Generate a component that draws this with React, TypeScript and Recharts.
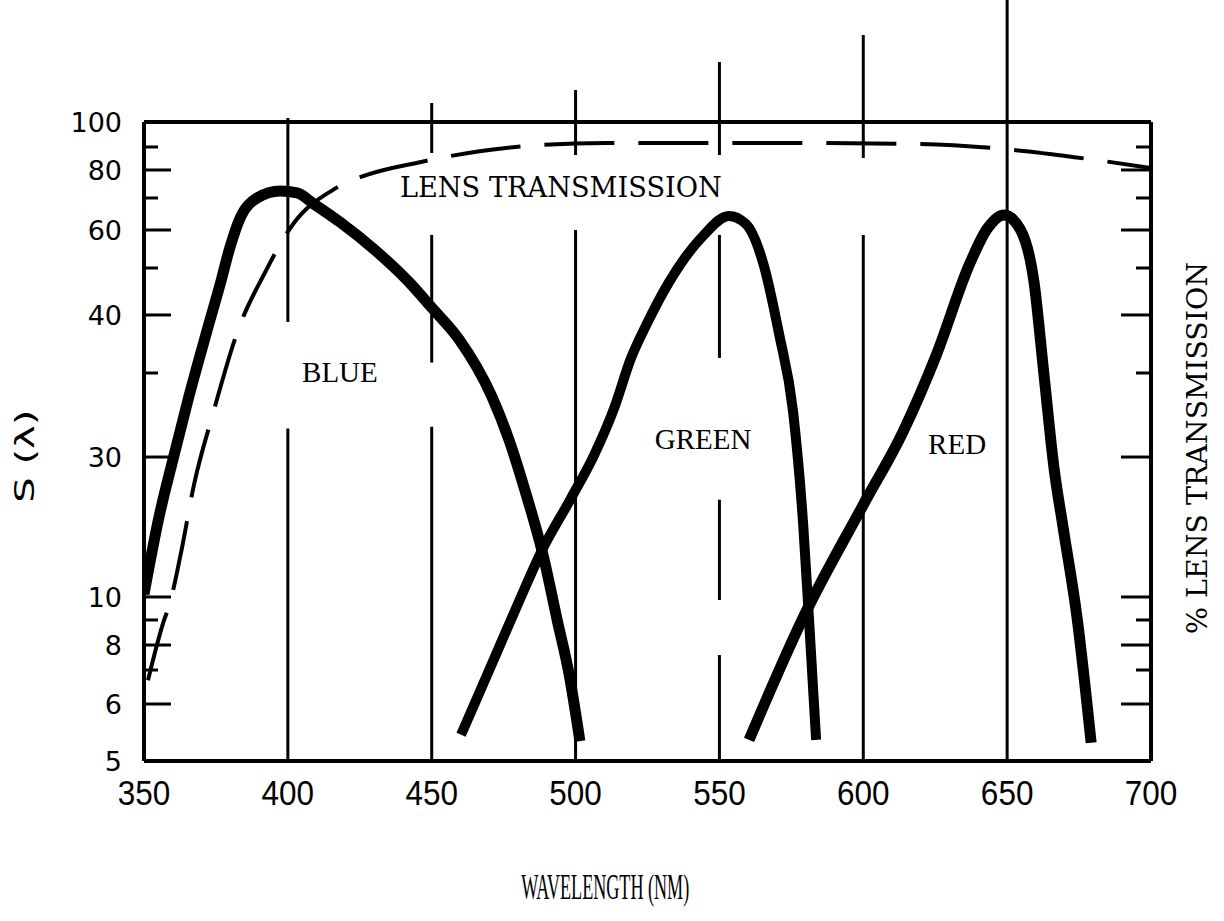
import React from 'react';
import { ComposedChart, Line, XAxis, YAxis, ReferenceLine, ReferenceDot, Label } from 'recharts';

// ---- axis definitions ----
const WAVELENGTH_TICKS = [350, 400, 450, 500, 550, 600, 650, 700];

const S_TICK_VALUES = [5, 6, 7, 8, 9, 10, 30, 35, 40, 50, 60, 70, 80, 90, 100];
const S_TICK_LABELS = ['5', '6', '', '8', '', '10', '30', '', '40', '', '60', '', '80', '', '100'];
// the printed S(λ) scale is hand-ruled (neither linear nor log):
// where each tick value sits along the axis, in ‰ of the axis height
const S_TICK_AXIS_POS = [0, 89.2, 142.4, 181.5, 220.7, 256.7, 475.7, 607.2, 698.0, 771.5, 831.0, 881.1, 924.9, 960.9, 1000];

// ---- series ----
const BLUE_NM = [350, 355.2, 360.1, 365.6, 371.5, 376.4, 379.9, 383.1, 389.3, 397.3, 403.2, 409.1, 418.5, 430.3, 441.8, 450.1, 459.5, 470.9, 476.9, 482.8, 488.7, 493.6, 497.8, 501.5];
const BLUE_S = [10.4, 21.4, 29.7, 33.6, 38.3, 46.4, 55.5, 63.1, 70.0, 72.5, 71.8, 68.1, 62.2, 54.7, 47.2, 41.5, 37.9, 33.6, 31.0, 24.7, 16.0, 9.0, 6.85, 5.35];

const GREEN_NM = [460.2, 470.6, 481.0, 488.0, 498.4, 506.4, 513.4, 519.3, 524.5, 532.5, 544.0, 553.3, 559.2, 565.2, 570.7, 575.6, 579.1, 581.1, 583.6];
const GREEN_S = [5.46, 7.16, 10.0, 16.4, 24.1, 30.1, 32.9, 36.3, 39.1, 47.0, 58.2, 64.4, 61.9, 51.3, 38.4, 32.7, 20.4, 9.1, 5.37];

const RED_NM = [560.3, 579.1, 599.9, 613.8, 625.3, 637.1, 643.0, 648.9, 654.5, 659.3, 662.8, 666.3, 669.5, 674.3, 679.2];
const RED_S = [5.37, 9.1, 23.1, 31.5, 36.5, 51.3, 60.3, 64.7, 60.3, 47.2, 34.9, 28.4, 19.8, 9.1, 5.32];

const LENS_NM = [351.4, 357.0, 358.7, 362.9, 367.4, 374.0, 382.7, 392.1, 402.1, 415.7, 425.4, 446.3, 475.8, 510.6, 543.6, 578.4, 619.0, 655.5, 683.3, 700];
const LENS_LEVEL = [6.7, 9.0, 9.6, 16.4, 26.1, 32.6, 38.7, 49.1, 62.2, 72.9, 77.5, 83.5, 89.6, 91.6, 91.6, 91.6, 91.2, 88.3, 83.9, 80.9];

// hand-drawn vertical rules at the wavelength ticks, with their gaps (S(λ) extents; >100 = above the frame)
const RULE_NM = [400, 450, 500, 550, 600, 650];
const RULE_SEGMENTS: number[][][] = [
  [[101.6, 39.4], [31.7, 5]],
  [[107.6, 87.4], [58.7, 35.9], [31.8, 5]],
  [[112.8, 86.5], [60, 5]],
  [[124.0, 86.5], [58.7, 36.3], [23.9, 9.87], [7.6, 5]],
  [[134.8, 85.2], [58.7, 5]],
  [[148.8, 5]],
];

// curve annotations: [text, wavelength, S]
const CURVE_LABELS: [string, number, number][] = [
  ['BLUE', 418.1, 35.1],
  ['GREEN', 544.3, 31.1],
  ['RED', 632.6, 30.8],
];
const LENS_LABEL: [string, number, number] = ['LENS TRANSMISSION', 494.9, 73.6];

// piecewise scale of the printed axis
function toAxis(v: number): number {
  const n = S_TICK_VALUES.length;
  let i = 0;
  if (v >= S_TICK_VALUES[n - 1]) i = n - 2;
  else if (v > S_TICK_VALUES[0]) {
    while (v > S_TICK_VALUES[i + 1]) i++;
  }
  const v0 = S_TICK_VALUES[i], v1 = S_TICK_VALUES[i + 1];
  const p0 = S_TICK_AXIS_POS[i], p1 = S_TICK_AXIS_POS[i + 1];
  return p0 + ((v - v0) * (p1 - p0)) / (v1 - v0);
}

const build = (nms: number[], vals: number[]) => nms.map((nm, i) => ({ nm, pos: toAxis(vals[i]) }));
const blueData = build(BLUE_NM, BLUE_S);
const greenData = build(GREEN_NM, GREEN_S);
const redData = build(RED_NM, RED_S);
const lensData = build(LENS_NM, LENS_LEVEL);

const TYPEWRITER = "'DejaVu Serif', 'Liberation Serif', serif";

function tickIndex(value: number) {
  let best = 0;
  for (let i = 0; i < S_TICK_AXIS_POS.length; i++) {
    if (Math.abs(S_TICK_AXIS_POS[i] - value) < Math.abs(S_TICK_AXIS_POS[best] - value)) best = i;
  }
  return best;
}

function LeftTick(props: any) {
  const { x, y, payload } = props;
  const label = S_TICK_LABELS[tickIndex(payload.value)];
  const len = label ? 27 : 14;
  return (
    <g>
      <line x1={x} x2={x + len} y1={y} y2={y} stroke="#000" strokeWidth={3} />
      {label ? (
        <text x={x - 22} y={y} dy={10} textAnchor="end" fontFamily="'DejaVu Sans', sans-serif" fontSize={27} fill="#000">
          {label}
        </text>
      ) : null}
    </g>
  );
}

function RightTick(props: any) {
  const { x, y, payload } = props;
  const label = S_TICK_LABELS[tickIndex(payload.value)];
  const len = label ? 30 : 15;
  return <line x1={x} x2={x - len} y1={y} y2={y} stroke="#000" strokeWidth={3} />;
}

function BottomTick(props: any) {
  const { x, y, payload } = props;
  return (
    <text
      transform={`translate(${x},${y + 44}) scale(0.9,1)`}
      textAnchor="middle"
      fontFamily="'Liberation Sans', Arial, sans-serif"
      fontSize={35}
      fill="#000"
    >
      {payload.value}
    </text>
  );
}

const pointText = (text: string, font: string, size: number, length?: number) => (props: any) => {
  const vb = props.viewBox || {};
  const cx = (vb.x || 0) + (vb.width || 0) / 2;
  const cy = (vb.y || 0) + (vb.height || 0) / 2;
  return (
    <text
      x={cx}
      y={cy}
      textAnchor="middle"
      dominantBaseline="central"
      fontFamily={font}
      fontSize={size}
      fill="#000"
      {...(length ? { textLength: length, lengthAdjust: 'spacingAndGlyphs' } : {})}
    >
      {text}
    </text>
  );
};

export default function App() {
  return (
    <div style={{ position: 'absolute', left: 0, top: 0, background: '#fff' }}>
      <ComposedChart width={1224} height={921} margin={{ top: 122, right: 53, bottom: 100, left: 74 }}>
        <XAxis
          type="number"
          dataKey="nm"
          domain={[350, 700]}
          ticks={WAVELENGTH_TICKS}
          interval={0}
          allowDataOverflow
          height={60}
          tickSize={0}
          tickMargin={0}
          tickLine={false}
          axisLine={{ stroke: '#000', strokeWidth: 4 }}
          tick={<BottomTick />}
        >
          <Label
            content={(p: any) => {
              const vb = p.viewBox;
              return (
                <text
                  x={vb.x + vb.width * 0.458}
                  y={vb.y + 138}
                  textAnchor="middle"
                  fontFamily="'Liberation Serif', 'Times New Roman', serif"
                  fontSize={36}
                  fill="#000"
                  textLength={168}
                  lengthAdjust="spacingAndGlyphs"
                >
                  WAVELENGTH (NM)
                </text>
              );
            }}
          />
        </XAxis>
        <YAxis
          yAxisId="left"
          type="number"
          domain={[0, 1000]}
          ticks={S_TICK_AXIS_POS}
          interval={0}
          allowDataOverflow
          width={70}
          tickSize={0}
          tickMargin={0}
          tickLine={false}
          axisLine={{ stroke: '#000', strokeWidth: 4 }}
          tick={<LeftTick />}
        >
          <Label
            content={(p: any) => {
              const vb = p.viewBox;
              const cx = vb.x - 50;
              const cy = vb.y + vb.height * 0.523;
              return (
                <text
                  transform={`translate(${cx},${cy}) rotate(-90)`}
                  textAnchor="middle"
                  dominantBaseline="central"
                  fontFamily="'DejaVu Sans', sans-serif"
                  fontSize={27}
                  fill="#000"
                  textLength={93}
                  lengthAdjust="spacingAndGlyphs"
                >
                  S (λ)
                </text>
              );
            }}
          />
        </YAxis>
        <YAxis
          yAxisId="right"
          orientation="right"
          type="number"
          domain={[0, 1000]}
          ticks={S_TICK_AXIS_POS}
          interval={0}
          allowDataOverflow
          width={20}
          tickSize={0}
          tickMargin={0}
          tickLine={false}
          axisLine={{ stroke: '#000', strokeWidth: 4 }}
          tick={<RightTick />}
        >
          <Label
            content={(p: any) => {
              const vb = p.viewBox;
              const cx = vb.x + 46;
              const cy = vb.y + vb.height * 0.51;
              return (
                <text
                  transform={`translate(${cx},${cy}) rotate(-90)`}
                  textAnchor="middle"
                  dominantBaseline="central"
                  fontFamily={TYPEWRITER}
                  fontSize={28}
                  fill="#000"
                  textLength={372}
                  lengthAdjust="spacingAndGlyphs"
                >
                  % LENS TRANSMISSION
                </text>
              );
            }}
          />
        </YAxis>

        {/* top edge of the frame */}
        <ReferenceLine yAxisId="left" y={toAxis(100)} stroke="#000" strokeWidth={4} ifOverflow="visible" />

        {RULE_NM.map((nm, i) =>
          RULE_SEGMENTS[i].map((seg, j) => (
            <ReferenceLine
              key={`r${i}-${j}`}
              yAxisId="left"
              segment={[
                { x: nm, y: toAxis(seg[0]) },
                { x: nm, y: toAxis(seg[1]) },
              ]}
              stroke="#000"
              strokeWidth={3}
              ifOverflow="visible"
            />
          ))
        )}

        <Line
          yAxisId="left"
          data={lensData}
          dataKey="pos"
          type="monotone"
          stroke="#000"
          strokeWidth={4}
          strokeDasharray="70 24"
          dot={false}
          activeDot={false}
          isAnimationActive={false}
        />
        <Line yAxisId="left" data={blueData} dataKey="pos" type="monotone" stroke="#000" strokeWidth={11} dot={false} activeDot={false} isAnimationActive={false} />
        <Line yAxisId="left" data={greenData} dataKey="pos" type="monotone" stroke="#000" strokeWidth={10} dot={false} activeDot={false} isAnimationActive={false} />
        <Line yAxisId="left" data={redData} dataKey="pos" type="monotone" stroke="#000" strokeWidth={11} dot={false} activeDot={false} isAnimationActive={false} />

        {CURVE_LABELS.map(([t, nm, s]) => (
          <ReferenceDot
            key={t}
            yAxisId="left"
            x={nm}
            y={toAxis(s)}
            r={0}
            fill="none"
            stroke="none"
            ifOverflow="visible"
            label={pointText(t, "'Liberation Serif', 'Times New Roman', serif", 29)}
          />
        ))}
        <ReferenceDot
          yAxisId="left"
          x={LENS_LABEL[1]}
          y={toAxis(LENS_LABEL[2])}
          r={0}
          fill="none"
          stroke="none"
          ifOverflow="visible"
          label={pointText(LENS_LABEL[0], TYPEWRITER, 28, 322)}
        />
      </ComposedChart>
    </div>
  );
}
